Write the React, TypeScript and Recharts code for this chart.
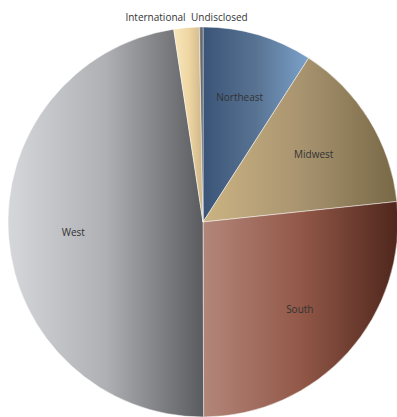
import React from 'react';
import { PieChart, Pie, Cell } from 'recharts';

// Regions and their share (percent), clockwise from 12 o'clock
const regions = ['Northeast', 'Midwest', 'South', 'West', 'International', 'Undisclosed'];
const shares = [9.1, 14.2, 26.6, 47.6, 2.1, 0.3];

// Horizontal gradient per slice: [left colour, middle colour, right colour]
const gradients = [
  ['#395477', '#587392', '#7ba1ca'],
  ['#cbb382', '#a99470', '#786846'],
  ['#b3867a', '#925848', '#4f261c'],
  ['#d6d7da', '#afb0b4', '#5a5b5f'],
  ['#f7e6bb', '#efd7a3', '#cdb489'],
  ['#8a8a8a', '#6e6e6e', '#555555'],
];

const data = regions.map((name, i) => ({ name, value: shares[i] }));

const RADIAN = Math.PI / 180;

const renderLabel = (props: any) => {
  const { cx, cy, midAngle, outerRadius, name, percent } = props;
  const style = { fontFamily: '"Open Sans", sans-serif', fontSize: 10, fill: '#333' };
  if (percent < 0.05) {
    // small slices get their label outside, above the pie
    const r = outerRadius + 10;
    const x = cx + r * Math.cos(-midAngle * RADIAN);
    const y = cy - outerRadius - 6;
    const isLast = name === 'Undisclosed';
    return (
      <text x={isLast ? x - 10 : x} y={y} textAnchor={isLast ? 'start' : 'end'} style={style}>
        {name}
      </text>
    );
  }
  const r = outerRadius * 0.667;
  const x = cx + r * Math.cos(-midAngle * RADIAN);
  const y = cy + r * Math.sin(-midAngle * RADIAN);
  return (
    <text x={x} y={y} textAnchor="middle" dominantBaseline="central" style={style}>
      {name}
    </text>
  );
};

export default function App() {
  return (
    <div style={{ position: 'absolute', left: 0, top: 0, background: '#fff' }}>
      <PieChart width={397} height={417} margin={{ top: 0, right: 0, bottom: 0, left: 0 }}>
        <defs>
          {gradients.map((g, i) => (
            <linearGradient key={i} id={`grad${i}`} x1="0" y1="0" x2="1" y2="0">
              <stop offset="0%" stopColor={g[0]} />
              <stop offset="50%" stopColor={g[1]} />
              <stop offset="100%" stopColor={g[2]} />
            </linearGradient>
          ))}
        </defs>
        <Pie
          data={data}
          dataKey="value"
          nameKey="name"
          cx={203}
          cy={222}
          outerRadius={195}
          startAngle={90}
          endAngle={-270}
          stroke="rgba(255,255,255,0.6)"
          strokeWidth={0.8}
          label={renderLabel}
          labelLine={false}
          isAnimationActive={false}
        >
          {data.map((d, i) => (
            <Cell key={d.name} fill={`url(#grad${i})`} />
          ))}
        </Pie>
      </PieChart>
    </div>
  );
}
